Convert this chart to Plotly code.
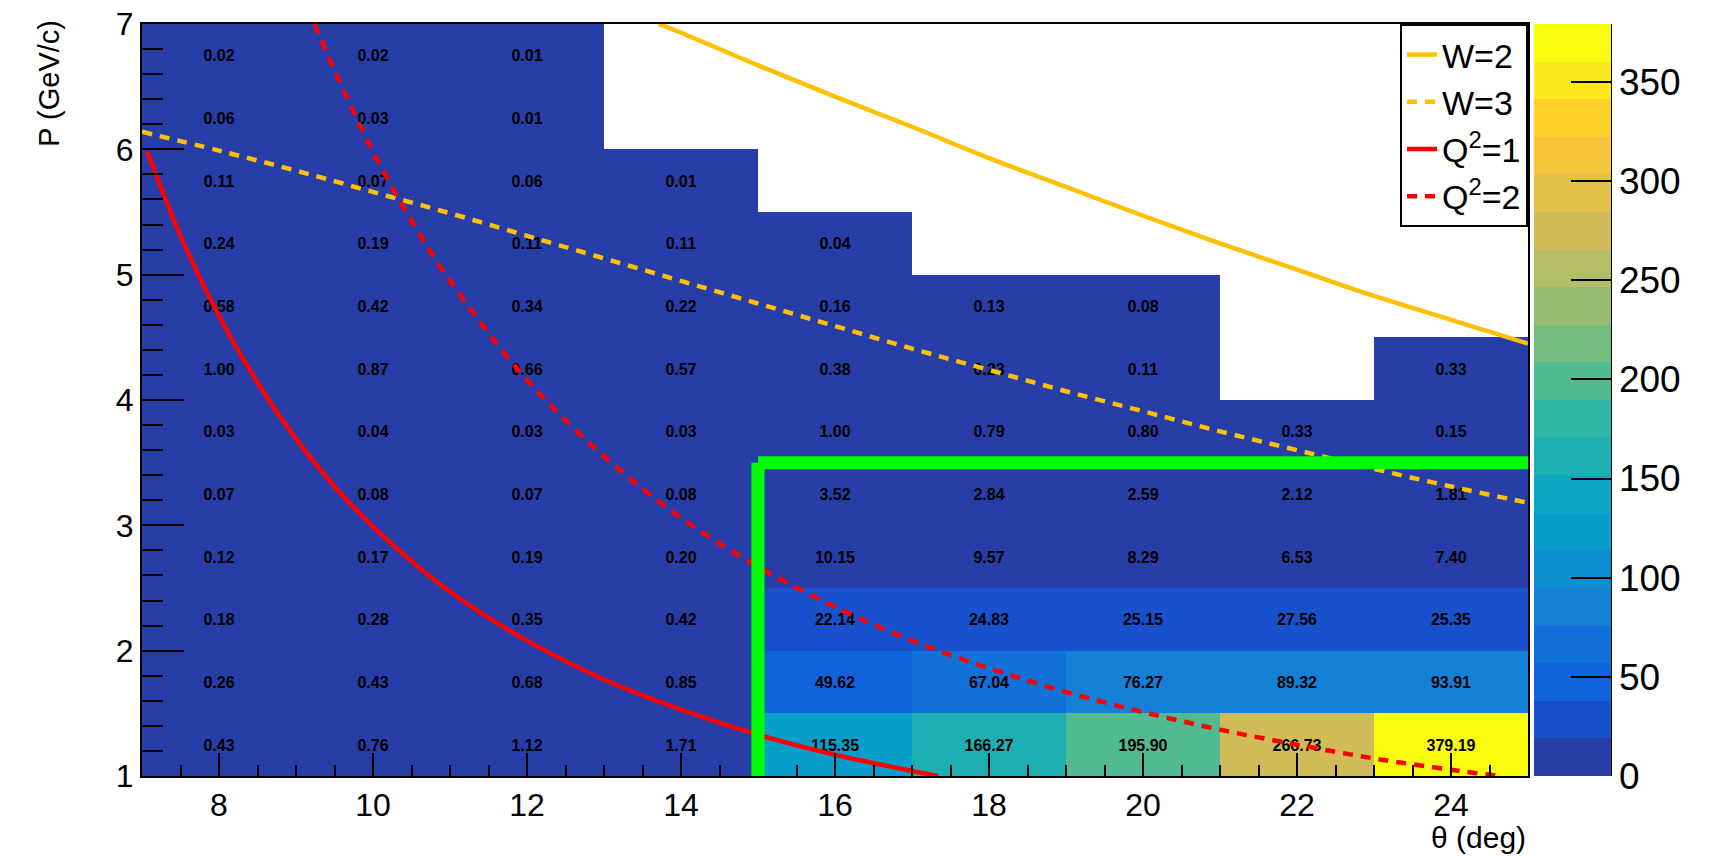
import plotly.graph_objects as go

# ---------------- data ----------------
theta_centers = [8, 10, 12, 14, 16, 18, 20, 22, 24]          # deg, bin width 2 (7..25)
p_centers = [1.25, 1.75, 2.25, 2.75, 3.25, 3.75, 4.25, 4.75, 5.25, 5.75, 6.25, 6.75]  # GeV/c

# rows follow p_centers (bottom -> top); None = empty bin
rate_p125 = [0.43, 0.76, 1.12, 1.71, 115.35, 166.27, 195.90, 266.73, 379.19]
rate_p175 = [0.26, 0.43, 0.68, 0.85, 49.62, 67.04, 76.27, 89.32, 93.91]
rate_p225 = [0.18, 0.28, 0.35, 0.42, 22.14, 24.83, 25.15, 27.56, 25.35]
rate_p275 = [0.12, 0.17, 0.19, 0.20, 10.15, 9.57, 8.29, 6.53, 7.40]
rate_p325 = [0.07, 0.08, 0.07, 0.08, 3.52, 2.84, 2.59, 2.12, 1.81]
rate_p375 = [0.03, 0.04, 0.03, 0.03, 1.00, 0.79, 0.80, 0.33, 0.15]
rate_p425 = [1.00, 0.87, 0.66, 0.57, 0.38, 0.23, 0.11, None, 0.33]
rate_p475 = [0.58, 0.42, 0.34, 0.22, 0.16, 0.13, 0.08, None, None]
rate_p525 = [0.24, 0.19, 0.11, 0.11, 0.04, None, None, None, None]
rate_p575 = [0.11, 0.07, 0.06, 0.01, None, None, None, None, None]
rate_p625 = [0.06, 0.03, 0.01, None, None, None, None, None, None]
rate_p675 = [0.02, 0.02, 0.01, None, None, None, None, None, None]

rates = [rate_p125, rate_p175, rate_p225, rate_p275, rate_p325, rate_p375,
         rate_p425, rate_p475, rate_p525, rate_p575, rate_p625, rate_p675]

z_min, z_max = 0, 379.19
n_contours = 20
cbar_ticks = [0, 50, 100, 150, 200, 250, 300, 350]

# kinematic curves
w2_theta = [13.71, 14, 15, 16, 17, 18, 19, 20, 21, 22, 23, 24, 25]
w2_p = [7.00, 6.93, 6.67, 6.42, 6.18, 5.93, 5.70, 5.47, 5.25, 5.04, 4.83, 4.64, 4.45]

w3_theta = [7, 8, 9, 10, 11, 12, 13, 14, 15, 16, 17, 18, 19, 20, 21, 22, 23, 24, 25]
w3_p = [6.14, 5.99, 5.83, 5.66, 5.49, 5.31, 5.13, 4.95, 4.77, 4.59, 4.41, 4.24, 4.07,
        3.91, 3.75, 3.60, 3.45, 3.31, 3.18]

q1_theta = [7.07, 7.5, 8, 8.5, 9, 9.5, 10, 11, 12, 13, 14, 15, 16, 17, 17.34]
q1_p = [5.98, 5.31, 4.67, 4.14, 3.69, 3.31, 2.99, 2.47, 2.08, 1.77, 1.53, 1.33, 1.17, 1.04, 1.00]

q2_theta = [9.24, 9.5, 10, 10.5, 11, 12, 13, 14, 15, 16, 17, 18, 19, 20, 21, 22, 23, 24, 24.62]
q2_p = [7.00, 6.63, 5.98, 5.43, 4.95, 4.16, 3.55, 3.06, 2.67, 2.35, 2.08, 1.86, 1.67, 1.51,
        1.37, 1.25, 1.14, 1.05, 1.00]

# acceptance cut (green box)
cut_theta_min = 15
cut_p_max = 3.5

# ---------------- ROOT kBird palette, 20 contour bands ----------------
stops = [0.0, 0.125, 0.25, 0.375, 0.5, 0.625, 0.75, 0.875, 1.0]
red = [0.2082, 0.0592, 0.0780, 0.0232, 0.1802, 0.5301, 0.8186, 0.9956, 0.9764]
green = [0.1664, 0.3599, 0.5041, 0.6419, 0.7178, 0.7492, 0.7328, 0.7862, 0.9832]
blue = [0.5293, 0.8684, 0.8385, 0.7914, 0.6425, 0.4662, 0.3499, 0.1968, 0.0539]


def bird(f):
    for k in range(len(stops) - 1):
        if stops[k] <= f <= stops[k + 1]:
            t = (f - stops[k]) / (stops[k + 1] - stops[k])
            r = red[k] + t * (red[k + 1] - red[k])
            g = green[k] + t * (green[k + 1] - green[k])
            b = blue[k] + t * (blue[k + 1] - blue[k])
            return f"rgb({round(r*255)},{round(g*255)},{round(b*255)})"
    return f"rgb({round(red[-1]*255)},{round(green[-1]*255)},{round(blue[-1]*255)})"


colorscale = []
for i in range(n_contours):
    idx = int((i + 0.99) * 255 / n_contours)
    c = bird(min(idx, 254) / 254)
    colorscale.append([i / n_contours, c])
    colorscale.append([(i + 1) / n_contours, c])

text = [["" if v is None else f"{v:.2f}" for v in row] for row in rates]

FONT = "Liberation Sans, Arial, Helvetica, sans-serif"
W_COLOR = "#ffc000"

fig = go.Figure()
fig.add_trace(go.Heatmap(
    x=theta_centers, y=p_centers, z=rates, text=text, texttemplate="%{text}",
    textfont=dict(family=FONT, size=16, color="black", weight="bold"),
    colorscale=colorscale, zmin=z_min, zmax=z_max, hoverongaps=False,
    colorbar=dict(
        x=(1534 - 142) / 1386, xanchor="left", xpad=0, ypad=0,
        y=0.5, yanchor="middle", len=1, lenmode="fraction", thickness=77,
        outlinewidth=0, tickvals=cbar_ticks, ticks="inside", ticklen=40,
        tickwidth=2, tickcolor="black",
        tickfont=dict(family=FONT, size=37, color="black"),
    ),
    showlegend=False,
))

fig.add_trace(go.Scatter(x=w2_theta, y=w2_p, mode="lines", name="W=2",
                         line=dict(color=W_COLOR, width=4.5, shape="spline")))
fig.add_trace(go.Scatter(x=w3_theta, y=w3_p, mode="lines", name="W=3",
                         line=dict(color=W_COLOR, width=4.5, dash="10px,8px", shape="spline")))
fig.add_trace(go.Scatter(x=q1_theta, y=q1_p, mode="lines", name="Q<sup>2</sup>=1",
                         line=dict(color="#ff0000", width=4.5, shape="spline")))
fig.add_trace(go.Scatter(x=q2_theta, y=q2_p, mode="lines", name="Q<sup>2</sup>=2",
                         line=dict(color="#ff0000", width=4.5, dash="10px,8px", shape="spline")))

# green acceptance box
fig.add_shape(type="line", xref="x", yref="y", x0=cut_theta_min, x1=cut_theta_min,
              y0=1, y1=cut_p_max, line=dict(color="#00ff00", width=13))
fig.add_shape(type="line", xref="x", yref="y", x0=cut_theta_min, x1=25,
              y0=cut_p_max, y1=cut_p_max, line=dict(color="#00ff00", width=13))
# palette axis line (right edge of colour bar)
fig.add_shape(type="line", xref="paper", yref="paper", x0=(1611 - 142) / 1386,
              x1=(1611 - 142) / 1386, y0=0, y1=1, line=dict(color="black", width=2))

fig.update_layout(
    width=1722, height=856,
    margin=dict(l=142, r=194, t=24, b=80, autoexpand=False),
    paper_bgcolor="white", plot_bgcolor="white",
    font=dict(family=FONT, color="black"),
    legend=dict(x=1, xanchor="right", y=1, yanchor="top", bgcolor="white",
                bordercolor="black", borderwidth=2,
                font=dict(family=FONT, size=34, color="black"),
                itemwidth=30, tracegroupgap=0),
    annotations=[
        dict(text="P (GeV/c)", xref="paper", yref="paper",
             x=(49 - 142) / 1386, y=(776.4 - 84) / 752.2, textangle=-90,
             xanchor="center", yanchor="middle", showarrow=False,
             font=dict(family=FONT, size=29, color="black")),
        dict(text="θ (deg)", xref="paper", yref="paper", x=1, y=(776.4 - 856) / 752.2,
             xanchor="right", yanchor="bottom", showarrow=False,
             font=dict(family=FONT, size=30, color="black")),
    ],
)

fig.update_xaxes(range=[7, 25], tick0=8, dtick=2, ticks="inside", ticklen=23,
                 tickwidth=2, tickcolor="black", showgrid=False, zeroline=False,
                 showline=True, linecolor="black", linewidth=2, mirror=True,
                 ticklabelstandoff=0,
                 tickfont=dict(family=FONT, size=32, color="black"),
                 minor=dict(dtick=0.5, ticks="inside", ticklen=11, tickwidth=2,
                            tickcolor="black", showgrid=False))
fig.update_yaxes(range=[1, 7], tick0=1, dtick=1, ticks="inside", ticklen=42,
                 tickwidth=2, tickcolor="black", showgrid=False, zeroline=False,
                 showline=True, linecolor="black", linewidth=2, mirror=True,
                 tickfont=dict(family=FONT, size=32, color="black"),
                 minor=dict(dtick=0.2, ticks="inside", ticklen=21, tickwidth=2,
                            tickcolor="black", showgrid=False))

fig.write_html("out.html")
